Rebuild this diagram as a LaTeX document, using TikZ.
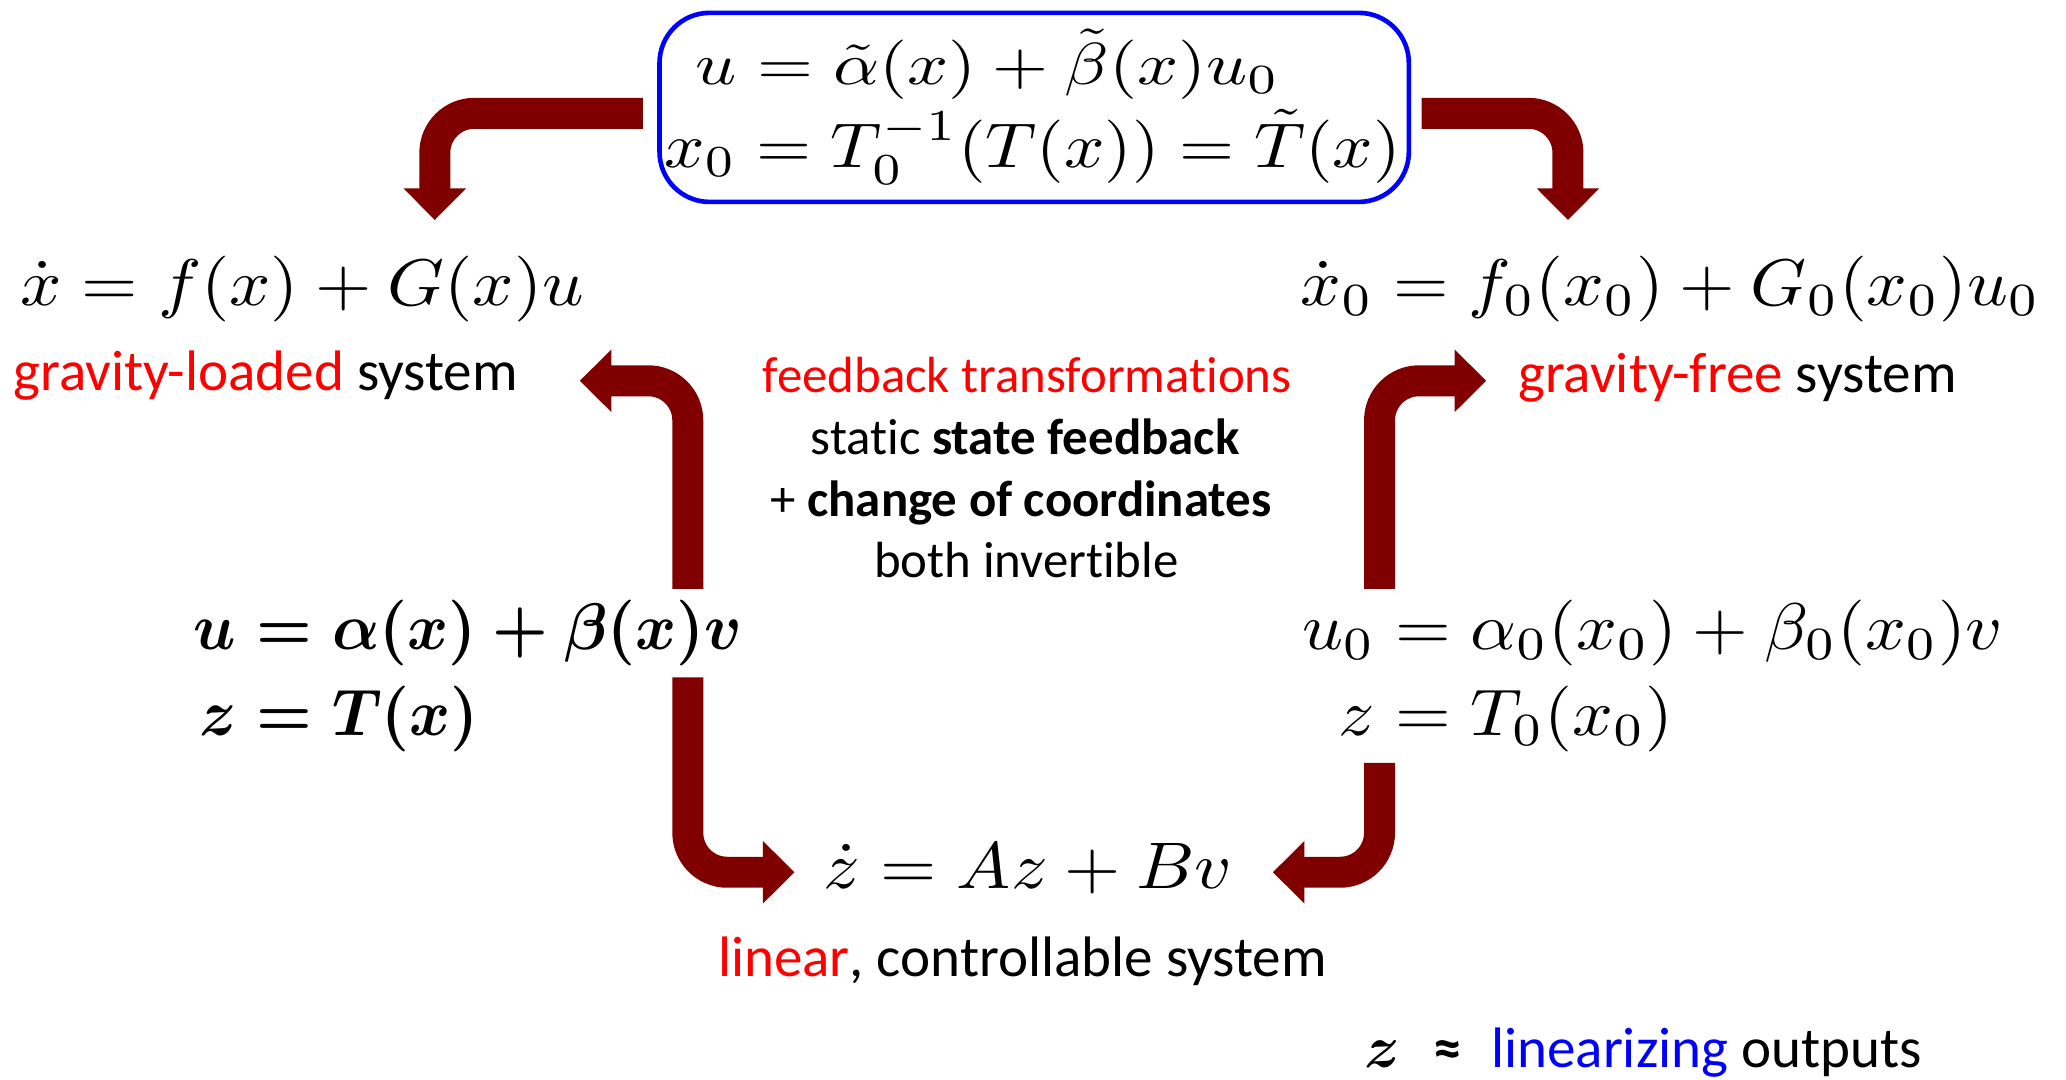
\documentclass[tikz,border=0pt]{standalone}
\usepackage{amsmath}
\usepackage{fontspec}
\setmainfont{Carlito}[Ligatures=NoCommon]
\usetikzlibrary{arrows.meta}
\definecolor{darkred}{RGB}{128,0,0}
\begin{document}
\begin{tikzpicture}[x=1pt,y=-1pt,
  txt/.style={font=\fontsize{38.6}{47}\selectfont, inner sep=0pt},
  lbl/.style={font=\fontsize{43.3}{52}\selectfont, inner sep=0pt},
  eq/.style={inner sep=0pt},
  bigarrow/.style={draw=darkred, line width=23.5pt, rounded corners=30pt,
    -{Triangle[width=46pt,length=24pt]}}]
\fill[white] (0,0) rectangle (1568,819);
\useasboundingbox (0,0) rectangle (1568,819);

% top box
\node[draw=blue, line width=3.5pt, rounded corners=38pt, minimum width=568.7pt,
  minimum height=143.5pt, inner sep=0pt] (tbox) at (784.9,81.5) {};
\node[eq, anchor=base west] (b1) at (528,64)
  {\resizebox{443pt}{4.5\height}{$u = \tilde{\alpha}(x) + \tilde{\beta}(x)u_0$}};
\node[eq, anchor=base west] (b2) at (504,127)
  {\resizebox{559pt}{4.8\height}{$x_0 = T_0^{-1}(T(x)) = \tilde{T}(x)$}};

% systems
\node[eq, anchor=base west] (lsys) at (15,232)
  {\resizebox{428pt}{5\height}{$\dot{x} = f(x) + G(x)u$}};
\node[eq, anchor=base west] (rsys) at (987,232)
  {\resizebox{561pt}{5\height}{$\dot{x}_0 = f_0(x_0) + G_0(x_0)u_0$}};
\node[lbl, anchor=base west] (lload) at (10,296) {\textcolor{red}{gravity-loaded} system};
\node[lbl, anchor=base west] (lfree) at (1152,298) {\textcolor{red}{gravity-free} system};

% centre text
\node[txt, anchor=base] (c1) at (779.5,298) {\textcolor{red}{feedback transformations}};
\node[txt, anchor=base] (c2) at (778,345) {static \textbf{state feedback}};
\node[txt, anchor=base] (c3) at (775,392) {+ \textbf{change of coordinates}};
\node[txt, anchor=base] (c4) at (779,438) {both invertible};

% feedback laws
\node[eq, anchor=base west] (lfb) at (147,493)
  {\resizebox{416pt}{5\height}{\boldmath$\begin{aligned}[t] u &= \alpha(x) + \beta(x)v\\[-2pt] z &= T(x)\end{aligned}$}};
\node[eq, anchor=base west] (rfb) at (988,493)
  {\resizebox{532pt}{5\height}{$\begin{aligned}[t] u_0 &= \alpha_0(x_0) + \beta_0(x_0)v\\[-2pt] z &= T_0(x_0)\end{aligned}$}};

% linear system
\node[eq, anchor=base west] (zsys) at (625,674)
  {\resizebox{310pt}{5\height}{$\dot{z} = Az + Bv$}};
\node[lbl, anchor=base] (lin) at (776,741) {\textcolor{red}{linear}, controllable system};

% footnote
\node[eq, anchor=base west] (zout) at (1035,810) {\resizebox{27pt}{!}{\boldmath$z$}};
\node[lbl, anchor=base west] (lino) at (1088,810) {\textbf{≈}\hspace{22pt}\textcolor{blue}{linearizing} outputs};

% arrows
\coordinate (a1s) at (488,86);   \coordinate (a1e) at (330,167);
\coordinate (a2s) at (1079,86);  \coordinate (a2e) at (1190,167);
\coordinate (a3s) at (522,447);  \coordinate (a3e) at (440,289);
\coordinate (a4s) at (522,514);  \coordinate (a4e) at (603,662);
\coordinate (a5s) at (1047,447); \coordinate (a5e) at (1128,289);
\coordinate (a6s) at (1047,579); \coordinate (a6e) at (966,662);
\draw[bigarrow] (a1s) -| (a1e);
\draw[bigarrow] (a2s) -| (a2e);
\draw[bigarrow] (a3s) |- (a3e);
\draw[bigarrow] (a4s) |- (a4e);
\draw[bigarrow] (a5s) |- (a5e);
\draw[bigarrow] (a6s) |- (a6e);
\end{tikzpicture}
\end{document}
